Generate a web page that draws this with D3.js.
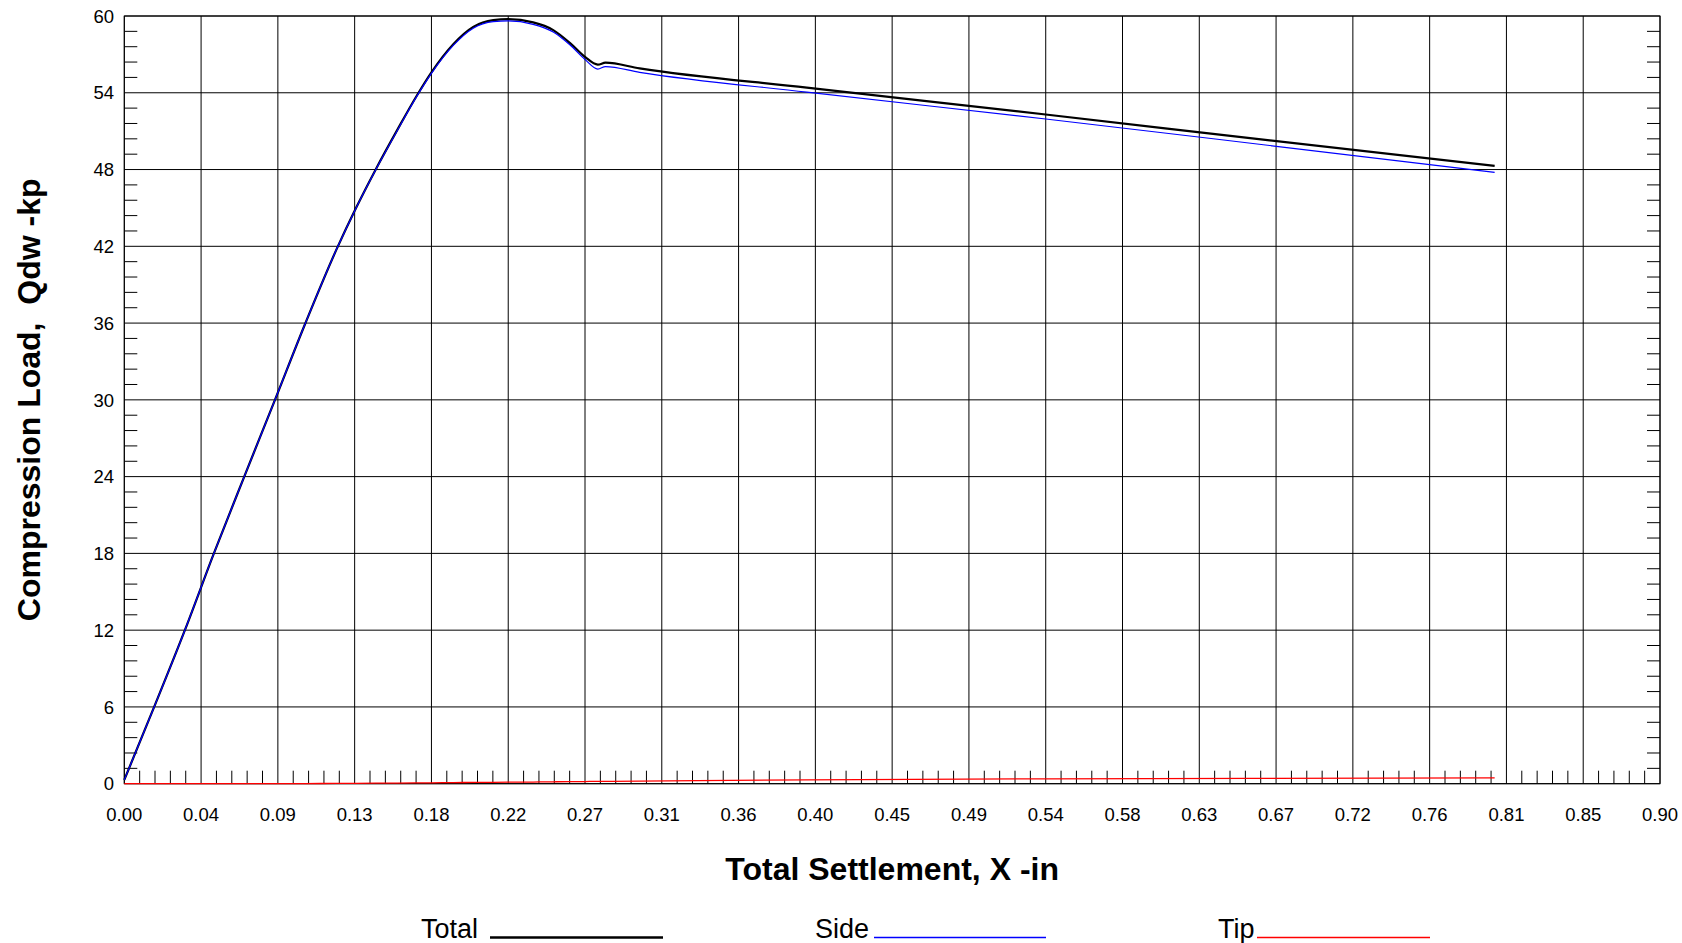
<!DOCTYPE html>
<html>
<head>
<meta charset="utf-8">
<script src="https://cdn.jsdelivr.net/npm/d3@7"></script>
<style>
  html, body { margin: 0; padding: 0; background: #fff; }
  svg { display: block; font-family: "Liberation Sans", Arial, sans-serif; }
</style>
</head>
<body>
<svg id="chart" width="1682" height="943"></svg>
<script>
// load-settlement curve
const settlement = [0, 0.0175, 0.0355, 0.0525, 0.0703, 0.0883, 0.106, 0.1245, 0.136, 0.1475,
  0.16, 0.1713, 0.18, 0.1928, 0.2045, 0.2162, 0.225, 0.2396, 0.2514, 0.2611,
  0.27, 0.2775, 0.282, 0.302, 0.40, 0.54, 0.67, 0.8031];
const total = [0.3, 6, 12, 18, 24, 30, 35.95, 41.8, 45.05, 48.05,
  51.1, 53.75, 55.6, 57.8, 59.15, 59.68, 59.75, 59.5, 58.9, 57.9,
  56.8, 56.2, 56.35, 55.9, 54.4, 52.3, 50.3, 48.28];
const side = [0.3, 6, 12, 18, 24, 30, 35.95, 41.8, 45.04, 48.02,
  51.05, 53.7, 55.52, 57.7, 59.05, 59.56, 59.62, 59.35, 58.75, 57.75,
  56.6, 55.85, 56.05, 55.6, 54.05, 51.95, 49.9, 47.78];
const tip = [0, 0, 0, 0, 0, 0, 0.01, 0.02, 0.03, 0.04,
  0.05, 0.06, 0.07, 0.09, 0.1, 0.11, 0.12, 0.13, 0.15, 0.16,
  0.17, 0.18, 0.18, 0.2, 0.3, 0.38, 0.42, 0.46];

const xTickLabels = ['0.00', '0.04', '0.09', '0.13', '0.18', '0.22', '0.27', '0.31', '0.36', '0.40',
  '0.45', '0.49', '0.54', '0.58', '0.63', '0.67', '0.72', '0.76', '0.81', '0.85', '0.90'];
const yTickLabels = ['0', '6', '12', '18', '24', '30', '36', '42', '48', '54', '60'];

const xMax = 0.9, yMax = 60;
const pLeft = 124.3, pRight = 1660, pTop = 16, pBottom = 783.7;

const svg = d3.select('#chart');
const x = d3.scaleLinear().domain([0, xMax]).range([pLeft, pRight]);
const y = d3.scaleLinear().domain([0, yMax]).range([pBottom, pTop]);

const xStep = xMax / (xTickLabels.length - 1);
const yStep = yMax / (yTickLabels.length - 1);
const xMajor = xTickLabels.map((d, i) => i * xStep);
const yMajor = yTickLabels.map((d, i) => i * yStep);

// grid
const grid = svg.append('g').attr('stroke', '#000').attr('stroke-width', 1);
grid.selectAll('.vx')
  .data(xMajor)
  .enter()
  .append('line')
  .attr('x1', d => x(d)).attr('x2', d => x(d))
  .attr('y1', pTop).attr('y2', pBottom);
grid.selectAll('.hy')
  .data(yMajor)
  .enter()
  .append('line')
  .attr('x1', pLeft).attr('x2', pRight)
  .attr('y1', d => y(d)).attr('y2', d => y(d));

// minor ticks: 4 between majors
const minorLen = 13;
const xMinor = [], yMinor = [];
for (let i = 0; i < xMajor.length - 1; i++) {
  for (let k = 1; k < 5; k++) xMinor.push(xMajor[i] + k * xStep / 5);
}
for (let i = 0; i < yMajor.length - 1; i++) {
  for (let k = 1; k < 5; k++) yMinor.push(yMajor[i] + k * yStep / 5);
}
const ticks = svg.append('g').attr('stroke', '#000').attr('stroke-width', 1);
ticks.selectAll('.mx')
  .data(xMinor)
  .enter()
  .append('line')
  .attr('x1', d => x(d)).attr('x2', d => x(d))
  .attr('y1', pBottom).attr('y2', pBottom - minorLen);
ticks.selectAll('.my')
  .data(yMinor)
  .enter()
  .append('line')
  .attr('x1', pLeft).attr('x2', pLeft + minorLen)
  .attr('y1', d => y(d)).attr('y2', d => y(d));
ticks.selectAll('.myr')
  .data(yMinor)
  .enter()
  .append('line')
  .attr('x1', pRight).attr('x2', pRight - minorLen)
  .attr('y1', d => y(d)).attr('y2', d => y(d));

// frame
svg.append('rect')
  .attr('x', pLeft).attr('y', pTop)
  .attr('width', pRight - pLeft).attr('height', pBottom - pTop)
  .attr('fill', 'none').attr('stroke', '#000').attr('stroke-width', 1);

// tick labels
svg.append('g')
  .selectAll('text')
  .data(xTickLabels)
  .enter()
  .append('text')
  .attr('x', (d, i) => x(xMajor[i]))
  .attr('y', 820.5)
  .attr('text-anchor', 'middle')
  .attr('font-size', 18.5)
  .text(d => d);
svg.append('g')
  .selectAll('text')
  .data(yTickLabels)
  .enter()
  .append('text')
  .attr('x', 114)
  .attr('y', (d, i) => y(yMajor[i]))
  .attr('dy', '0.36em')
  .attr('text-anchor', 'end')
  .attr('font-size', 18.5)
  .text(d => d);

// curves
const line = vals => d3.line()
  .x((d, i) => x(settlement[i]))
  .y(d => y(d))
  .curve(d3.curveMonotoneX)(vals);

svg.append('path').attr('d', line(total))
  .attr('fill', 'none').attr('stroke', '#000').attr('stroke-width', 2.2);
svg.append('path').attr('d', line(side))
  .attr('fill', 'none').attr('stroke', '#0000ff').attr('stroke-width', 1.2);
svg.append('path').attr('d', line(tip))
  .attr('fill', 'none').attr('stroke', '#ff0000').attr('stroke-width', 1.3);

// axis titles
svg.append('text')
  .attr('x', (pLeft + pRight) / 2)
  .attr('y', 880)
  .attr('text-anchor', 'middle')
  .attr('font-size', 32)
  .attr('font-weight', 'bold')
  .text('Total Settlement, X -in');

svg.append('text')
  .attr('transform', 'translate(40,' + (pTop + pBottom) / 2 + ') rotate(-90)')
  .attr('text-anchor', 'middle')
  .attr('font-size', 32)
  .attr('font-weight', 'bold')
  .style('white-space', 'pre')
  .text('Compression Load,  Qdw -kp');

// legend
const legend = [
  { label: 'Total', tx: 421, x1: 490, x2: 663, color: '#000', w: 2.5 },
  { label: 'Side', tx: 815, x1: 874, x2: 1046, color: '#0000ff', w: 1.5 },
  { label: 'Tip', tx: 1218, x1: 1257, x2: 1430, color: '#ff0000', w: 1.5 }
];
const lg = svg.append('g');
lg.selectAll('text')
  .data(legend)
  .enter()
  .append('text')
  .attr('x', d => d.tx)
  .attr('y', 938)
  .attr('font-size', 27)
  .text(d => d.label);
lg.selectAll('line')
  .data(legend)
  .enter()
  .append('line')
  .attr('x1', d => d.x1).attr('x2', d => d.x2)
  .attr('y1', 937.5).attr('y2', 937.5)
  .attr('stroke', d => d.color)
  .attr('stroke-width', d => d.w);
</script>
</body>
</html>
